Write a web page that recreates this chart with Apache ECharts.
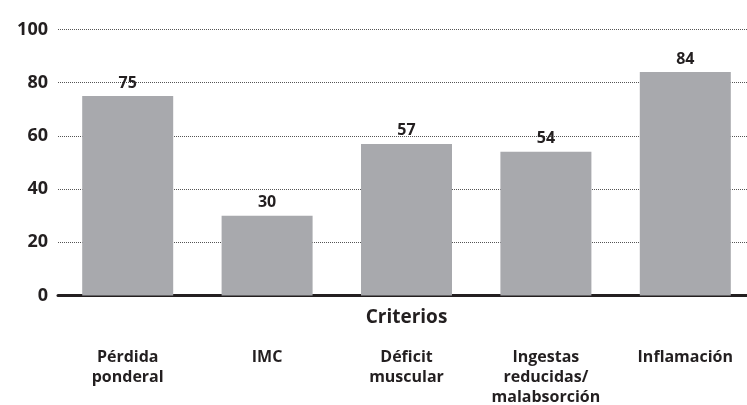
<!DOCTYPE html>
<html>
<head>
<meta charset="utf-8">
<script src="https://cdn.jsdelivr.net/npm/echarts@6/dist/echarts.min.js"></script>
<style>
  html, body { margin: 0; padding: 0; background: #ffffff; }
  #chart { width: 747px; height: 405px; }
</style>
</head>
<body>
<div id="chart"></div>
<script>
// Criteria categories (multi-line labels) and their percentages
const categories = [
  'Pérdida\nponderal',
  'IMC',
  'Déficit\nmuscular',
  'Ingestas\nreducidas/\nmalabsorción',
  'Inflamación'
];
const values = [75, 30, 57, 54, 84];
const yTicks = [0, 20, 40, 60, 80, 100];

const textColor = '#231f20';
const fontFamily = '"Open Sans", "Noto Sans", sans-serif';

const chart = echarts.init(document.getElementById('chart'), null, { renderer: 'canvas' });

chart.setOption({
  animation: false,
  backgroundColor: '#ffffff',
  grid: {
    left: 58, right: -8, top: 29.5, bottom: 109.5,
    containLabel: false, outerBoundsMode: 'none'
  },
  xAxis: {
    type: 'category',
    data: categories,
    name: 'Criterios',
    nameLocation: 'middle',
    nameGap: 22,
    nameMoveOverlap: false,
    nameTextStyle: {
      color: textColor, fontFamily, fontWeight: 'bold', fontSize: 19,
      verticalAlign: 'middle'
    },
    axisLine: { show: true, lineStyle: { color: textColor, width: 3 } },
    axisTick: { show: false },
    axisLabel: {
      margin: 52,
      color: textColor, fontFamily, fontWeight: 'bold', fontSize: 16,
      lineHeight: 20, verticalAlign: 'top', interval: 0
    },
    splitLine: { show: false }
  },
  yAxis: {
    type: 'value',
    min: yTicks[0],
    max: yTicks[yTicks.length - 1],
    interval: yTicks[1] - yTicks[0],
    axisLine: { show: false },
    axisTick: { show: false },
    axisLabel: {
      margin: 10,
      color: textColor, fontFamily, fontWeight: 'bold', fontSize: 18
    },
    splitLine: { show: true, lineStyle: { color: '#555555', width: 1, type: [1, 1] } }
  },
  series: [{
    type: 'bar',
    data: values,
    barWidth: 91,
    itemStyle: { color: '#a8a9ad' },
    label: {
      show: true,
      position: 'top',
      distance: 5,
      color: textColor, fontFamily, fontWeight: 'bold', fontSize: 16
    }
  }]
});
</script>
</body>
</html>
